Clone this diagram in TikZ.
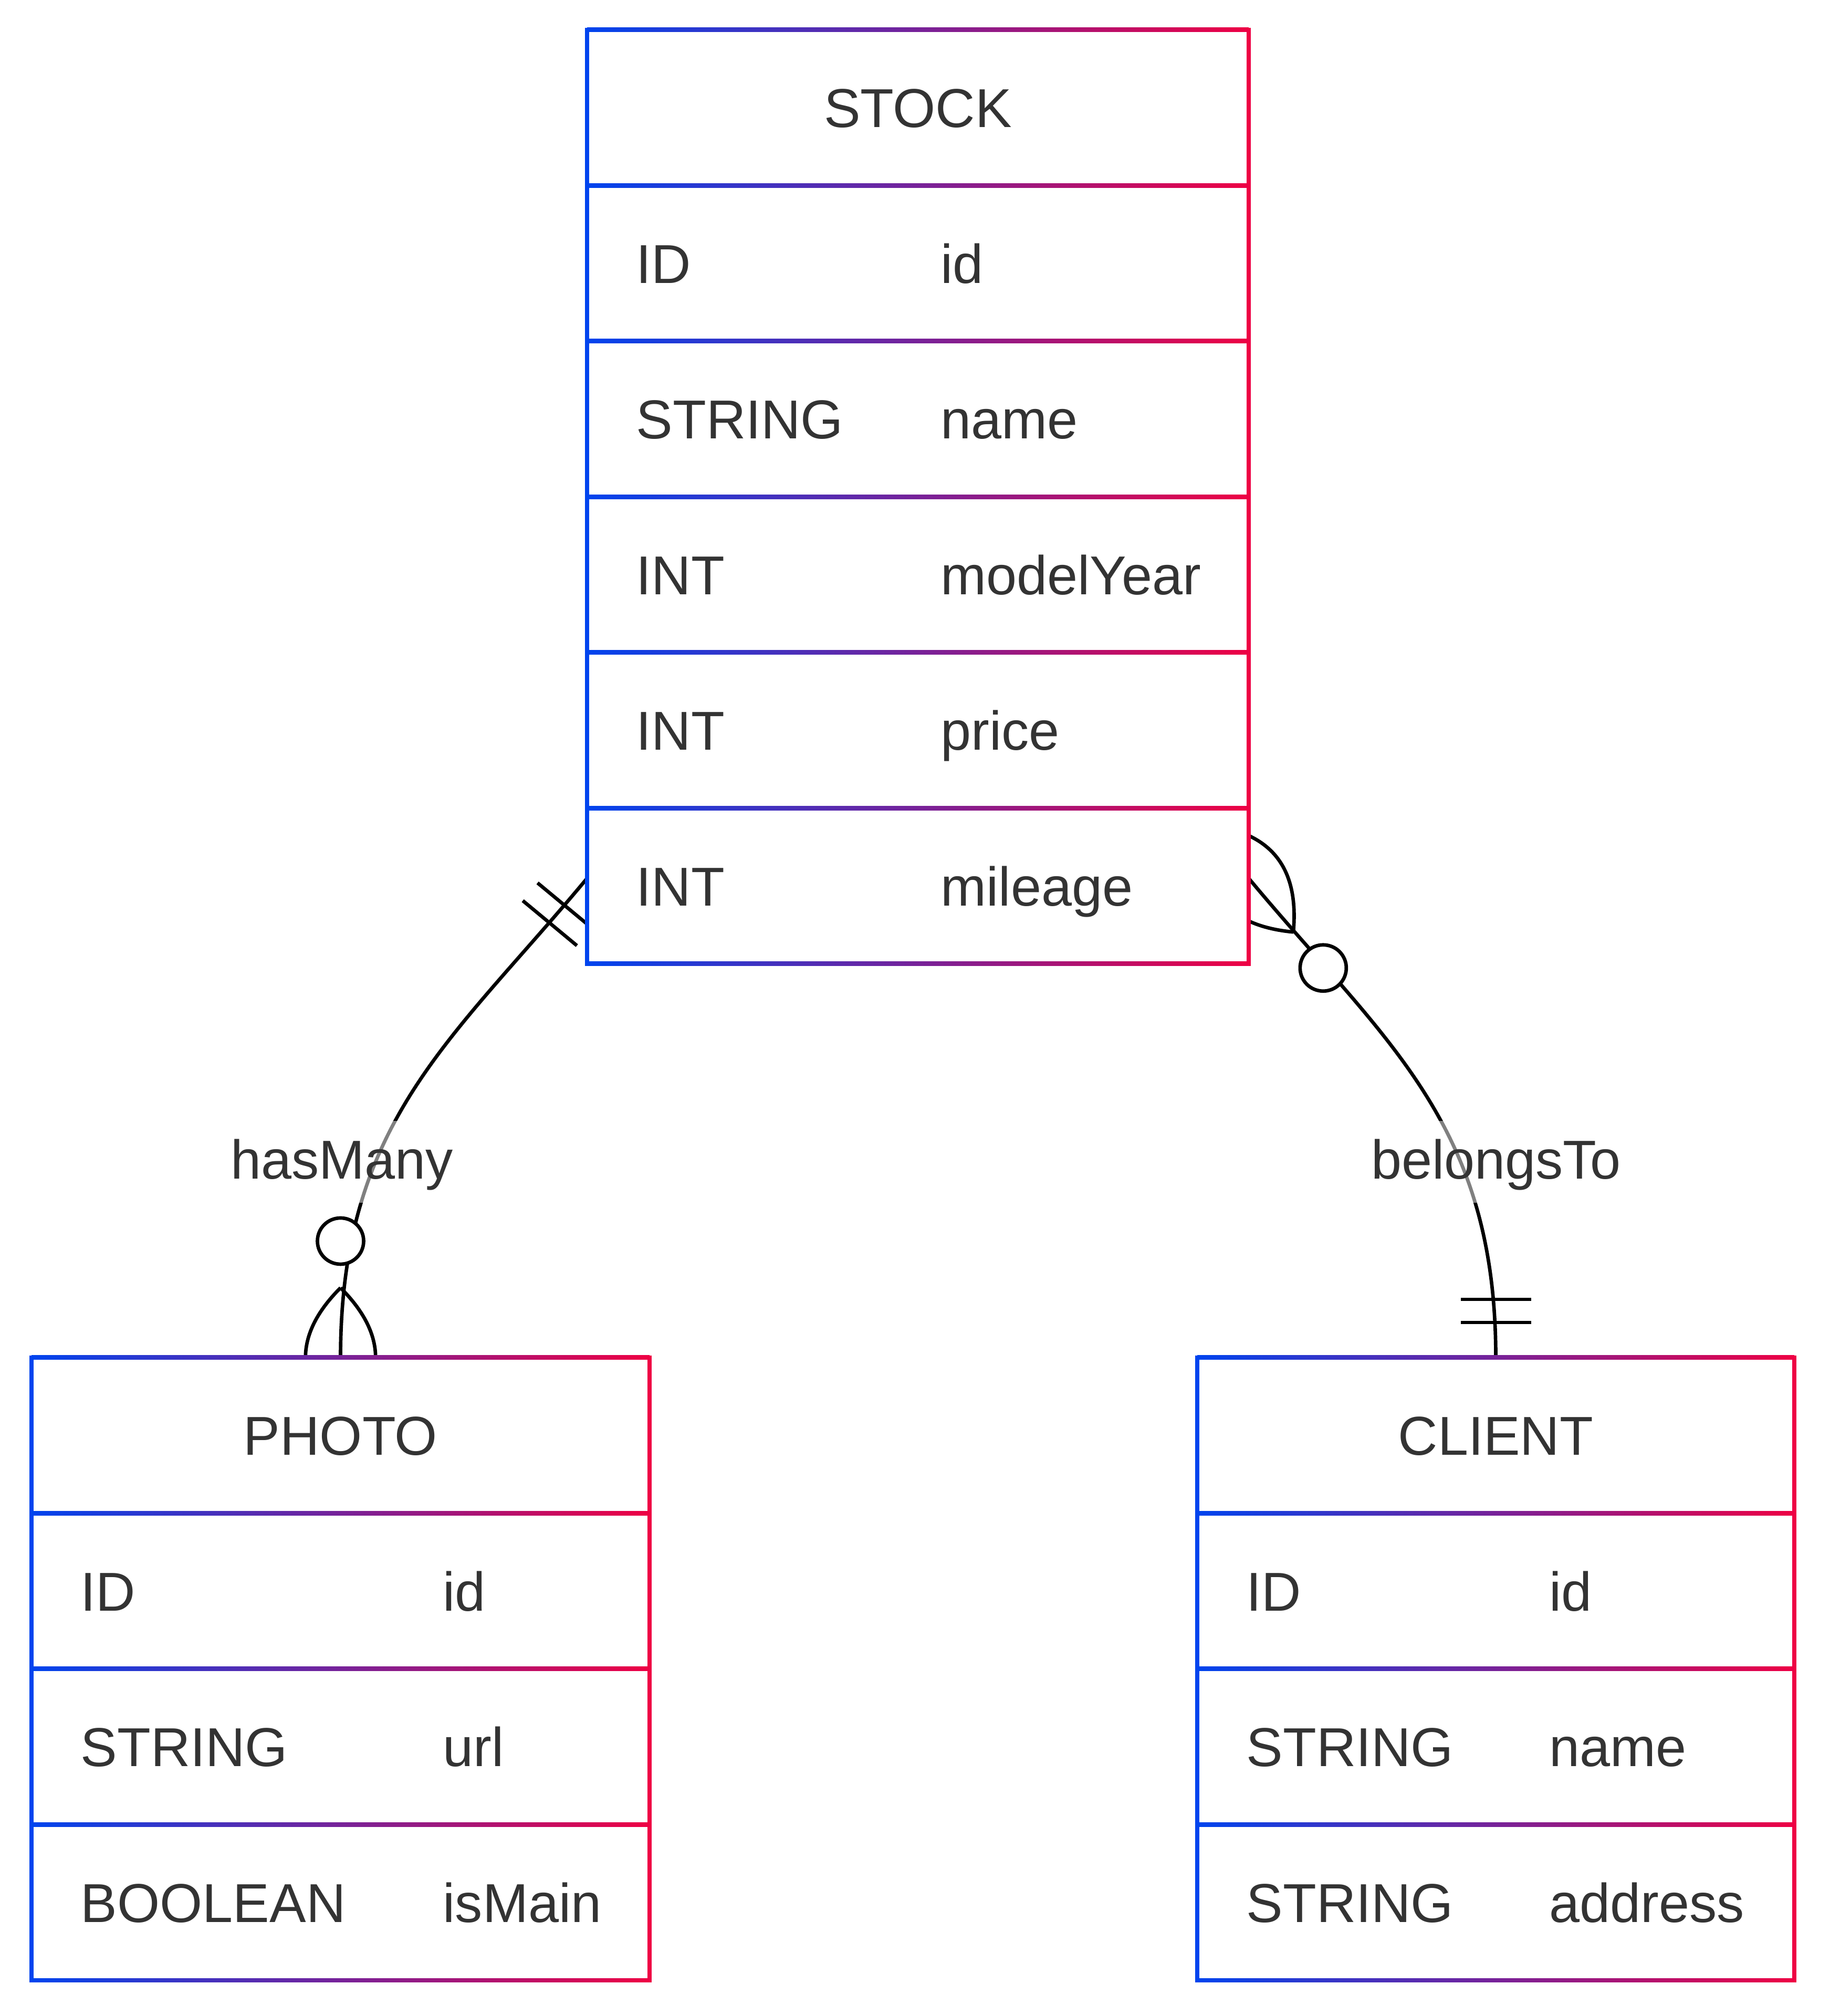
\documentclass[tikz,border=0pt]{standalone}
\usepackage{fontspec}
\setmainfont{Liberation Sans}
\usetikzlibrary{backgrounds}
\definecolor{erblue}{RGB}{0,68,238}
\definecolor{erred}{RGB}{238,0,68}
\definecolor{ertext}{RGB}{51,51,51}
\tikzset{
  entity/.style={rectangle, fill=white, inner sep=0pt, outer sep=0pt},
  attr/.style={anchor=west, text=ertext, text height=0.75cm, text depth=0pt, inner sep=0pt},
  enttitle/.style={attr, anchor=center},
  hrule/.style={left color=erblue, right color=erred},
  lborder/.style={erblue, line width=0.08cm},
  rborder/.style={erred, line width=0.08cm},
  rel/.style={black, line width=1.9pt},
  relname/.style={anchor=base, text=ertext, fill=white, fill opacity=0.5, text opacity=1,
    text height=1.11cm, text depth=0.45cm, inner xsep=0.15cm, inner ysep=0pt}
}
\begin{document}
\begin{tikzpicture}[font=\fontsize{29.7pt}{35pt}\selectfont]
  \useasboundingbox (0,0) rectangle (34.85,38.40);

  % entities
  \node[entity, minimum width=12.60cm, minimum height=17.79cm] (st) at (17.48,28.935) {};
  \node[entity, minimum width=11.77cm, minimum height=11.86cm] (ph) at (6.485,6.61) {};
  \node[entity, minimum width=11.37cm, minimum height=11.86cm] (cl) at (28.485,6.61) {};

  % STOCK
  \foreach \y in {37.83,34.865,31.90,28.935,25.97,23.005,20.04}
    \shade[hrule] (11.18,{\y-0.04}) rectangle (23.78,{\y+0.04});
  \draw[lborder] (11.18,20.00) -- (11.18,37.87);
  \draw[rborder] (23.78,20.00) -- (23.78,37.87);
  \node[enttitle] (st0) at (17.48,36.35) {STOCK};
  \node[attr] (st1t) at (12.11,33.38) {ID};
  \node[attr] (st1n) at (17.91,33.38) {id};
  \node[attr] (st2t) at (12.11,30.42) {STRING};
  \node[attr] (st2n) at (17.91,30.42) {name};
  \node[attr] (st3t) at (12.11,27.45) {INT};
  \node[attr] (st3n) at (17.91,27.45) {modelYear};
  \node[attr] (st4t) at (12.11,24.49) {INT};
  \node[attr] (st4n) at (17.91,24.49) {price};
  \node[attr] (st5t) at (12.11,21.52) {INT};
  \node[attr] (st5n) at (17.91,21.52) {mileage};

  % PHOTO
  \foreach \y in {12.54,9.575,6.61,3.645,0.68}
    \shade[hrule] (0.60,{\y-0.04}) rectangle (12.37,{\y+0.04});
  \draw[lborder] (0.60,0.64) -- (0.60,12.58);
  \draw[rborder] (12.37,0.64) -- (12.37,12.58);
  \node[enttitle] (ph0) at (6.485,11.06) {PHOTO};
  \node[attr] (ph1t) at (1.53,8.09) {ID};
  \node[attr] (ph1n) at (8.43,8.09) {id};
  \node[attr] (ph2t) at (1.53,5.13) {STRING};
  \node[attr] (ph2n) at (8.43,5.13) {url};
  \node[attr] (ph3t) at (1.53,2.16) {BOOLEAN};
  \node[attr] (ph3n) at (8.43,2.16) {isMain};

  % CLIENT
  \foreach \y in {12.54,9.575,6.61,3.645,0.68}
    \shade[hrule] (22.80,{\y-0.04}) rectangle (34.17,{\y+0.04});
  \draw[lborder] (22.80,0.64) -- (22.80,12.58);
  \draw[rborder] (34.17,0.64) -- (34.17,12.58);
  \node[enttitle] (cl0) at (28.485,11.06) {CLIENT};
  \node[attr] (cl1t) at (23.73,8.09) {ID};
  \node[attr] (cl1n) at (29.50,8.09) {id};
  \node[attr] (cl2t) at (23.73,5.13) {STRING};
  \node[attr] (cl2n) at (29.50,5.13) {name};
  \node[attr] (cl3t) at (23.73,2.16) {STRING};
  \node[attr] (cl3n) at (29.50,2.16) {address};

  % relationships
  \coordinate (hmA) at ([yshift=1.63cm]st.south west);
  \coordinate (btA) at ([yshift=1.63cm]st.south east);
  \node[relname] (hm) at (6.51,15.94) {hasMany};
  \node[relname] (bt) at (28.49,15.94) {belongsTo};

  \begin{pgfonlayer}{background}
    \draw[rel] (hmA) .. controls +(-2.56,-3.08) and +(0,4.5) .. (ph.north);
    \draw[rel] (btA) .. controls +(2.56,-3.08) and +(0,4.5) .. (cl.north);
    % exactly one at STOCK
    \begin{scope}[shift={(hmA)}, rotate=230.3]
      \draw[rel] (0.67,-0.67) -- (0.67,0.67) (1.11,-0.67) -- (1.11,0.67);
    \end{scope}
    % zero or more at PHOTO
    \begin{scope}[shift={(ph.north)}, rotate=90]
      \draw[rel] (1.33,0) .. controls (0.44,0.89) and (-0.44,0.89) .. (-1.33,0);
      \draw[rel] (1.33,0) .. controls (0.44,-0.89) and (-0.44,-0.89) .. (-1.33,0);
      \draw[rel, fill=white] (2.22,0) circle (0.44);
    \end{scope}
    % zero or more at STOCK
    \begin{scope}[shift={(btA)}, rotate=-50.3]
      \draw[rel] (1.33,0) .. controls (0.44,0.89) and (-0.44,0.89) .. (-1.33,0);
      \draw[rel] (1.33,0) .. controls (0.44,-0.89) and (-0.44,-0.89) .. (-1.33,0);
      \draw[rel, fill=white] (2.22,0) circle (0.44);
    \end{scope}
    % exactly one at CLIENT
    \begin{scope}[shift={(cl.north)}, rotate=90]
      \draw[rel] (0.67,-0.67) -- (0.67,0.67) (1.11,-0.67) -- (1.11,0.67);
    \end{scope}
  \end{pgfonlayer}
\end{tikzpicture}
\end{document}
